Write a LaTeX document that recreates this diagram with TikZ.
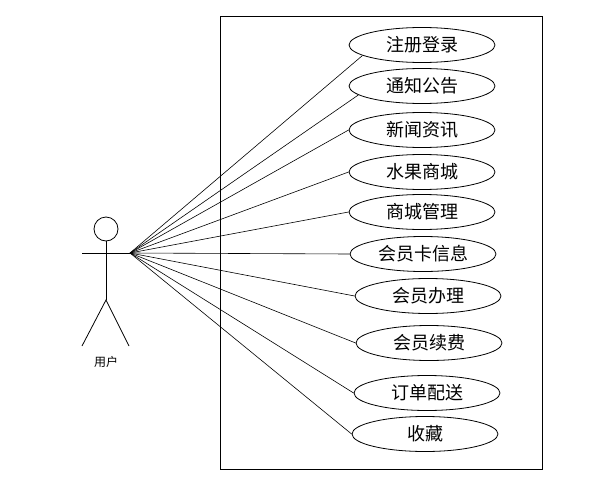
\documentclass[tikz,border=0pt]{standalone}
\usepackage{fontspec}
\newfontfamily\cjk{Noto Sans CJK SC}
\usetikzlibrary{shapes.geometric}
\begin{document}
\begin{tikzpicture}[x=1pt,y=-1pt,
  usecase/.style={draw,ellipse,line width=0.8pt,minimum width=146pt,minimum height=35pt,inner sep=0pt,font=\cjk\fontsize{18}{18}\selectfont},
  link/.style={draw,line width=0.6pt},
  stick/.style={draw,line width=0.8pt}]
\useasboundingbox (0,0) rectangle (616,479);
\node[draw,line width=0.8pt,minimum width=322pt,minimum height=453pt,inner sep=0pt] (sys) at (381,242.5) {};
\node[usecase] (u1) at (422,45) {注册登录};
\node[usecase] (u2) at (422,86) {通知公告};
\node[usecase] (u3) at (422,130) {新闻资讯};
\node[usecase] (u4) at (422,172) {水果商城};
\node[usecase] (u5) at (422,212) {商城管理};
\node[usecase] (u6) at (423,254) {会员卡信息};
\node[usecase] (u7) at (428,296) {会员办理};
\node[usecase] (u8) at (429,343) {会员续费};
\node[usecase] (u9) at (427,393) {订单配送};
\node[usecase] (u10) at (425,434) {收藏};
% actor
\node[draw,circle,line width=0.8pt,minimum size=24pt,inner sep=0pt] (head) at (106,229) {};
\coordinate (hip) at (106,300);
\coordinate (lhand) at (82,253);
\coordinate (hand) at (130,253);
\coordinate (lfoot) at (82,346);
\coordinate (rfoot) at (129,346);
\path[stick] (head.south) -- (hip);
\path[stick] (lhand) -- (hand);
\path[stick] (lfoot) -- (hip) -- (rfoot);
\node[font=\cjk\fontsize{12}{12}\selectfont] (actor) at (106,362) {用户};
\path[link] (hand) -- (u1.190);
\path[link] (hand) -- (u2.188);
\foreach \u in {u3,u4,u5,u6,u7,u8,u9,u10}
  \path[link] (hand) -- (\u.west);
\end{tikzpicture}
\end{document}
